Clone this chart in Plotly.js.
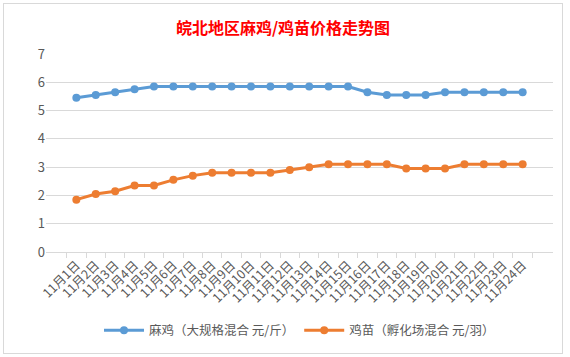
<!DOCTYPE html>
<html><head><meta charset="utf-8">
<script src="https://cdn.plot.ly/plotly-3.0.1.min.js"></script>
<style>
html,body{margin:0;padding:0;background:#fff;width:570px;height:357px;overflow:hidden;}
#chart{position:absolute;left:3px;top:3px;width:558px;height:349px;border:1px solid #d9d9d9;}
</style></head>
<body><div id="chart"></div>
<script>
const categories = ["11月1日","11月2日","11月3日","11月4日","11月5日","11月6日","11月7日","11月8日","11月9日","11月10日","11月11日","11月12日","11月13日","11月14日","11月15日","11月16日","11月17日","11月18日","11月19日","11月20日","11月21日","11月22日","11月23日","11月24日"];
const majiPrice = [5.45,5.55,5.65,5.75,5.85,5.85,5.85,5.85,5.85,5.85,5.85,5.85,5.85,5.85,5.85,5.65,5.55,5.55,5.55,5.65,5.65,5.65,5.65,5.65];
const jimiaoPrice = [1.85,2.05,2.15,2.35,2.35,2.55,2.7,2.8,2.8,2.8,2.8,2.9,3.0,3.1,3.1,3.1,3.1,2.95,2.95,2.95,3.1,3.1,3.1,3.1];
const seriesNames = ["麻鸡（大规格混合 元/斤）","鸡苗（孵化场混合 元/羽）"];

const font = "'Microsoft YaHei','Noto Sans CJK SC',sans-serif";
const traces = [
  {x: categories, y: majiPrice, name: seriesNames[0], type: "scatter", mode: "lines+markers",
   line: {color: "#5B9BD5", width: 3}, marker: {color: "#5B9BD5", size: 8}},
  {x: categories, y: jimiaoPrice, name: seriesNames[1], type: "scatter", mode: "lines+markers",
   line: {color: "#ED7D31", width: 3}, marker: {color: "#ED7D31", size: 8}}
];
const layout = {
  width: 558, height: 349,
  margin: {l: 42, r: 9, t: 50, b: 100},
  paper_bgcolor: "#fff", plot_bgcolor: "#fff",
  font: {family: font, color: "#595959", size: 12},
  title: {text: "皖北地区麻鸡/鸡苗价格走势图", x: 0.5, xanchor: "center", y: 0.93, yanchor: "middle",
          font: {family: font, size: 16, color: "#FF0000", weight: "bold"}},
  xaxis: {type: "category", tickangle: -45, tickfont: {size: 12.5, color: "#595959"},
          showline: true, linecolor: "#d9d9d9", linewidth: 1,
          ticks: "outside", tickson: "boundaries", ticklen: 5, tickcolor: "#d9d9d9",
          showgrid: false, zeroline: false, fixedrange: true},
  yaxis: {range: [0, 7], dtick: 1, tickfont: {size: 13, color: "#595959"},
          showgrid: true, gridcolor: "#d9d9d9", gridwidth: 1, zeroline: false,
          showline: false, ticks: "", fixedrange: true},
  showlegend: true,
  legend: {orientation: "h", x: 0.5, xanchor: "center", y: -0.39, yanchor: "middle",
           font: {size: 12.5, color: "#595959"}, itemwidth: 40}
};
Plotly.newPlot("chart", traces, layout, {displayModeBar: false, staticPlot: true});
</script></body></html>
